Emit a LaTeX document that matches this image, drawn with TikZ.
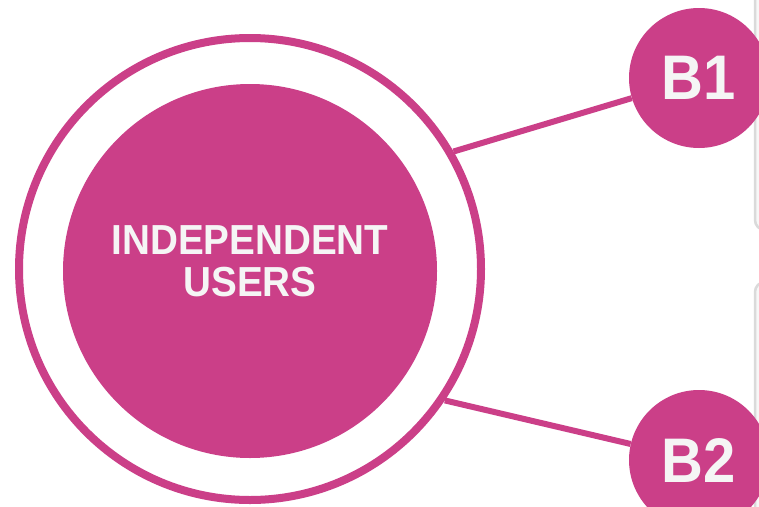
\documentclass[tikz,border=0pt]{standalone}
\usepackage{fontspec}
\setmainfont[FakeStretch=0.92]{Liberation Sans}
\usetikzlibrary{positioning, calc}
\definecolor{userpink}{RGB}{203,63,136}
\definecolor{cardgray}{RGB}{218,218,218}
\tikzset{
    ring_node/.style={circle, draw=userpink, line width=8pt, minimum size=462pt, inner sep=0pt},
    core_node/.style={circle, fill=userpink, minimum size=374pt, inner sep=0pt},
    core_text/.style={text=white!96!black, font=\fontsize{42}{42}\selectfont\bfseries, align=center, inner sep=0pt},
    branch_node/.style={circle, fill=userpink, minimum size=140pt, inner sep=0pt, text=white!96!black, font=\fontsize{63}{63}\selectfont\bfseries},
    link/.style={draw=userpink, line width=6pt},
    card/.style={draw=cardgray, line width=2.5pt, fill=white!97!black, rounded corners=10pt},
}

\begin{document}
\begin{tikzpicture}[x=1pt, y=-1pt]
      \clip (0,0) rectangle (759,506);
      \fill [white] (0,0) rectangle (759,506);
      %%%%%%%%%%%%%%%%%
      % Cards (right) %
      %%%%%%%%%%%%%%%%%
      \draw [card] (755,-20) rectangle (800,230);
      \draw [card] (755,282) rectangle (800,540);

      %%%%%%%%%%%%%%%%%%%%%
      % Independent users %
      %%%%%%%%%%%%%%%%%%%%%
      \node (ring) [ring_node] at (250,269) {};
      \node (core) [core_node] at (250,271) {};
      \node (users) [core_text] at (250,261)
          {INDEPENDENT\\[-0.0pt]USERS};

      %%%%%%%%%%%%
      % Branches %
      %%%%%%%%%%%%
      \node (bone) [branch_node] at (699,78)
          {B1};
      \node (btwo) [branch_node] at (699,460)
          {B2};

      \draw [link] (ring.30) -- (bone);
      \draw [link] (ring.-34) -- (btwo);

    \end{tikzpicture}
\end{document}
